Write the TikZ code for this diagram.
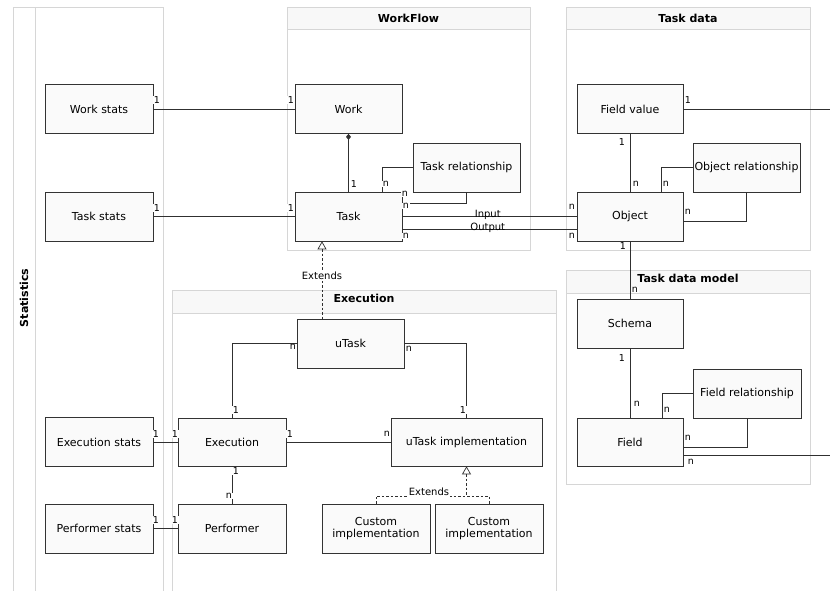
\documentclass[tikz,border=0pt]{standalone}
\usepackage{fontspec}
\setmainfont{DejaVu Sans}
\usetikzlibrary{arrows.meta}
\definecolor{boxfill}{HTML}{FAFAFA}
\definecolor{boxline}{HTML}{333333}
\definecolor{laneline}{HTML}{D6D6D6}
\definecolor{lanehead}{HTML}{F8F8F8}
\definecolor{wire}{HTML}{303030}
\begin{document}
\begin{tikzpicture}[x=1pt,y=-1pt,
  entity/.style={draw=boxline,fill=boxfill,line width=0.7pt,minimum width=108pt,minimum height=49pt,
    align=center,font=\fontsize{11}{12.5}\selectfont,inner sep=1pt},
  lane/.style={draw=laneline,line width=0.6pt},
  lanehdr/.style={draw=laneline,fill=lanehead,line width=0.6pt},
  lanetitle/.style={font=\fontsize{11}{12}\selectfont\bfseries},
  card/.style={font=\fontsize{9.5}{10}\selectfont,inner sep=0.8pt,fill=white},
  wirestyle/.style={draw=wire,line width=0.8pt},
  extends/.style={draw=wire,line width=0.7pt,dashed,dash pattern=on 2.5pt off 2pt},
  extlabel/.style={font=\fontsize{10}{11}\selectfont,fill=white,inner sep=0.8pt},
]
\useasboundingbox (0,0) rectangle (830,590);
\fill[white] (0,0) rectangle (830,590);

% ---- swimlanes ----
\draw[lane] (13,7) rectangle (163,592);
\draw[lane] (35,7) -- (35,592);
\node[lanetitle,rotate=90] (statsTitle) at (24,298) {Statistics};

\draw[lane] (287,7) rectangle (530,250);
\draw[lanehdr] (287,7) rectangle (530,29);
\node[lanetitle] (wfTitle) at (408.5,18) {WorkFlow};

\draw[lane] (566,7) rectangle (810,250);
\draw[lanehdr] (566,7) rectangle (810,29);
\node[lanetitle] (tdTitle) at (688,18) {Task data};

\draw[lane] (566,270) rectangle (810,484);
\draw[lanehdr] (566,270) rectangle (810,293);
\node[lanetitle] (tdmTitle) at (688,278.5) {Task data model};

\draw[lane] (172,290) rectangle (556,592);
\draw[lanehdr] (172,290) rectangle (556,313);
\node[lanetitle] (exTitle) at (364,298) {Execution};

% ---- entities ----
\node[entity] (wstats) at (99,109) {Work stats};
\node[entity] (tstats) at (99,216.5) {Task stats};
\node[entity] (estats) at (99,442) {Execution stats};
\node[entity] (pstats) at (99,528.5) {Performer stats};

\node[entity,minimum width=107pt] (work) at (348.5,109) {Work};
\node[entity,minimum width=107pt] (task) at (348.5,216.5) {Task};
\node[entity,minimum width=107pt] (trel) at (466.5,167.5) {Task relationship};

\node[entity,minimum width=106pt] (fval) at (630,109) {Field value};
\node[entity,minimum width=106pt] (obj) at (630,216.5) {Object};
\node[entity,minimum width=107pt] (orel) at (746.5,167.5) {Object relationship};

\node[entity,minimum width=106pt] (schema) at (630,323.5) {Schema};
\node[entity,minimum width=108pt] (frel) at (747,393.5) {Field relationship};
\node[entity,minimum width=106pt,minimum height=48pt] (field) at (630,442) {Field};

\node[entity,minimum width=107pt] (utask) at (350.5,343.5) {uTask};
\node[entity,minimum height=48pt] (exec) at (232,442) {Execution};
\node[entity] (perf) at (232,528.5) {Performer};
\node[entity,minimum width=151pt,minimum height=48pt] (uimpl) at (466.5,442) {uTask implementation};
\node[entity] (cimp1) at (376,528.5) {Custom\\implementation};
\node[entity] (cimp2) at (489,528.5) {Custom\\implementation};

% ---- free ends running off to the right ----
\coordinate (fvalOut) at (832,109);
\coordinate (fieldOut) at (832,455);
\coordinate (implJoin) at (466.5,496);

% ---- connectors ----
\draw[wirestyle] (wstats.east) -- (work.west);
\draw[wirestyle] (tstats.east) -- (task.west);
\draw[wirestyle,{Diamond[length=6pt,width=5pt]}-] (work.south) -- (task.north);
\draw[wirestyle] (trel.west) -| ([xshift=33.5pt]task.north);
\draw[wirestyle] (trel.south) |- ([yshift=13.5pt]task.east);
\draw[wirestyle] ([yshift=0.5pt]task.east) -- ([yshift=0.5pt]obj.west)
  node[extlabel,pos=0.49,fill=none,anchor=base,yshift=-1pt] (inLbl) {Input};
\draw[wirestyle] ([yshift=-12.5pt]task.east) -- ([yshift=-12.5pt]obj.west)
  node[extlabel,pos=0.49,fill=none,anchor=base,yshift=-1pt] (outLbl) {Output};

\draw[wirestyle] (fval.south) -- (obj.north);
\draw[wirestyle] (orel.west) -| ([xshift=31pt]obj.north);
\draw[wirestyle] (orel.south) |- ([yshift=-4.5pt]obj.east);
\draw[wirestyle,line width=1pt] (fval.east) -- (fvalOut);
\draw[wirestyle] (obj.south) -- (schema.north);
\draw[wirestyle] (schema.south) -- (field.north);
\draw[wirestyle] (frel.west) -| ([xshift=32pt]field.north);
\draw[wirestyle] (frel.south) |- ([yshift=-5pt]field.east);
\draw[wirestyle,line width=1pt] ([yshift=-13pt]field.east) -- (fieldOut);

\draw[extends,{Triangle[open,length=8pt,width=9pt]}-] ([xshift=-26.5pt]task.south) -- ([xshift=-28.5pt]utask.north)
  node[extlabel,pos=0.45] (ext1) {Extends};

\draw[wirestyle] (utask.west) -| (exec.north);
\draw[wirestyle] (utask.east) -| (uimpl.north);
\draw[wirestyle] (exec.east) -- (uimpl.west);
\draw[wirestyle] (estats.east) -- (exec.west);
\draw[wirestyle] (exec.south) -- (perf.north);
\draw[wirestyle] (pstats.east) -- (perf.west);

\draw[extends] (cimp1.north) |- (implJoin) -| (cimp2.north);
\draw[extends,{Triangle[open,length=8pt,width=9pt]}-] (uimpl.south) -- (implJoin);
\node[extlabel] (ext2) at (429,492) {Extends};

% ---- multiplicities ----
\node[card] (c1) at (157,100) {1};
\node[card] (c2) at (291,100) {1};
\node[card] (c3) at (157,208) {1};
\node[card] (c4) at (291,208) {1};
\node[card] (c5) at (354,184) {1};
\node[card] (c6) at (386,184) {n};
\node[card] (c7) at (405,194) {n};
\node[card] (c8) at (406,206) {n};
\node[card] (c9) at (406,236) {n};
\node[card] (c10) at (572,207) {n};
\node[card] (c11) at (572,236) {n};
\node[card] (c12) at (688,100) {1};
\node[card] (c13) at (622,142) {1};
\node[card] (c14) at (636,184) {n};
\node[card] (c15) at (666,184) {n};
\node[card] (c16) at (688,212) {n};
\node[card] (c17) at (623,246) {1};
\node[card] (c18) at (635,290) {n};
\node[card] (c19) at (622,358) {1};
\node[card] (c20) at (637,404) {n};
\node[card] (c21) at (667,410) {n};
\node[card] (c22) at (688,438) {n};
\node[card] (c23) at (691,462) {n};
\node[card] (c24) at (293,347) {n};
\node[card] (c25) at (409,349) {n};
\node[card] (c26) at (236,410) {1};
\node[card] (c27) at (463,410) {1};
\node[card] (c28) at (290,434) {1};
\node[card] (c29) at (387,434) {n};
\node[card] (c30) at (156,434) {1};
\node[card] (c31) at (175,434) {1};
\node[card] (c32) at (236,471) {1};
\node[card] (c33) at (229,496) {n};
\node[card] (c34) at (156,520) {1};
\node[card] (c35) at (175,520) {1};
\end{tikzpicture}
\end{document}
